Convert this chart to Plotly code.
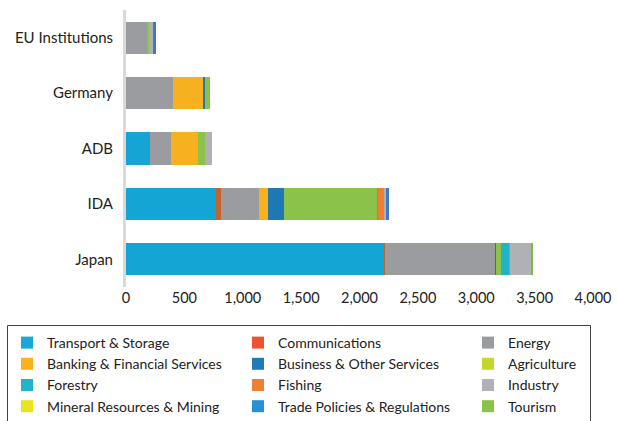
import plotly.graph_objects as go

categories = ["EU Institutions", "Germany", "ADB", "IDA", "Japan"]

# stacking order (left to right within each bar)
sectors = ["Transport & Storage", "Communications", "Energy",
           "Banking & Financial Services", "Business & Other Services",
           "Agriculture", "Forestry", "Fishing", "Industry",
           "Mineral Resources & Mining", "Trade Policies & Regulations", "Tourism"]

transport = [0, 0, 205, 768, 2210]
communications = [0, 0, 0, 46, 9]
energy = [188, 402, 180, 326, 942]
banking = [0, 265, 231, 77, 0]
business = [0, 9, 0, 137, 9]
agriculture = [9, 43, 60, 800, 43]
forestry = [0, 0, 0, 6, 69]
fishing = [0, 0, 0, 50, 9]
industry = [40, 0, 57, 17, 185]
mineral = [0, 0, 0, 0, 0]
trade = [17, 0, 0, 26, 0]
tourism = [0, 0, 0, 0, 9]

values = [transport, communications, energy, banking, business, agriculture,
          forestry, fishing, industry, mineral, trade, tourism]

bar_colors = ["#14A5D4", "#C4642C", "#9B9C9F", "#F8B11E", "#1F78B4", "#8BC34A",
              "#1EB5C8", "#EE7F33", "#B0B1B4", "#E8E51E", "#3F7BC4", "#7DB94A"]

# legend columns (row-major reading, 3 columns)
legend_columns = [
    ["Transport & Storage", "Banking & Financial Services", "Forestry", "Mineral Resources & Mining"],
    ["Communications", "Business & Other Services", "Fishing", "Trade Policies & Regulations"],
    ["Energy", "Agriculture", "Industry", "Tourism"],
]
legend_colors = {"Transport & Storage": "#1AA6D8", "Communications": "#EE5230",
                 "Energy": "#9B9C9F", "Banking & Financial Services": "#F9B11F",
                 "Business & Other Services": "#1F7BB8", "Agriculture": "#C5D62E",
                 "Forestry": "#1EB5C8", "Fishing": "#EE7F33", "Industry": "#B1B2B5",
                 "Mineral Resources & Mining": "#E8E51E",
                 "Trade Policies & Regulations": "#2592D6", "Tourism": "#8BC34A"}

# plot-area geometry in pixels (used to place legends/box in paper coords)
W, H = 617, 421
L, R, T, B = 126, 24, 10, 134
pw, ph = W - L - R, H - T - B


def px_x(p):
    return (p - L) / pw


def px_y(p):
    return (H - B - p) / ph


fig = go.Figure()
for name, vals, col in zip(sectors, values, bar_colors):
    fig.add_trace(go.Bar(y=categories, x=vals, orientation="h", name=name,
                         marker=dict(color=col, line=dict(width=0)),
                         showlegend=False))

legend_ids = ["legend", "legend2", "legend3"]
for lid, col_names in zip(legend_ids, legend_columns):
    for i, name in enumerate(col_names):
        fig.add_trace(go.Bar(y=[None], x=[None], orientation="h", name=name,
                             marker=dict(color=legend_colors[name], line=dict(width=0)),
                             showlegend=True, legend=lid, legendrank=i + 1))

legend_x_px = [7, 238, 468]
legend_top_px = 327
common_legend = dict(orientation="v", xanchor="left", yanchor="top",
                     borderwidth=0, bgcolor="rgba(0,0,0,0)",
                     font=dict(size=14, color="#222222"), traceorder="normal")

fig.update_layout(
    barmode="stack",
    bargap=0.42,
    width=W, height=H,
    margin=dict(l=L, r=R, t=T, b=B, autoexpand=False),
    paper_bgcolor="white", plot_bgcolor="white",
    font=dict(family="Lato, 'Open Sans', sans-serif", size=14, color="#222222"),
    xaxis=dict(range=[0, 4000], dtick=500, tickformat=",", showgrid=False,
               zeroline=False, showline=False, ticks="", automargin=False,
               tickfont=dict(size=14.5, color="#222222")),
    yaxis=dict(autorange="reversed", showgrid=False, zeroline=False,
               showline=True, linecolor="#D9D9D9", linewidth=3, ticks="",
               automargin=False, ticklabelstandoff=7,
               tickfont=dict(size=15, color="#222222")),
    legend=dict(x=px_x(legend_x_px[0]), y=px_y(legend_top_px), **common_legend),
    legend2=dict(x=px_x(legend_x_px[1]), y=px_y(legend_top_px), **common_legend),
    legend3=dict(x=px_x(legend_x_px[2]), y=px_y(legend_top_px), **common_legend),
    shapes=[dict(type="rect", xref="paper", yref="paper",
                 x0=px_x(7.5), x1=px_x(590.5), y0=px_y(325.5), y1=px_y(430),
                 line=dict(color="#444444", width=1), fillcolor="rgba(0,0,0,0)",
                 layer="above")],
)

fig.write_html("out.html", config={"displayModeBar": False},
               post_script="document.body.style.margin='0';document.body.style.overflow='hidden';")
